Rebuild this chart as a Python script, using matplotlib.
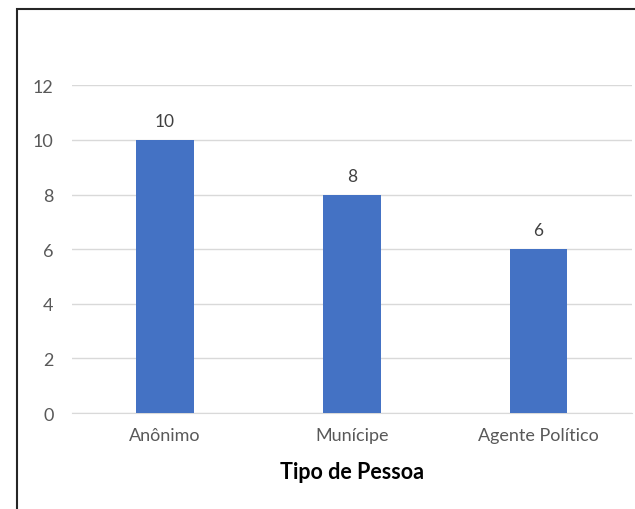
import matplotlib
matplotlib.use('Agg')
import matplotlib.pyplot as plt
from matplotlib.patches import Rectangle

categories = ['Anônimo', 'Munícipe', 'Agente Político']
values = [10, 8, 6]
yticks = [0, 2, 4, 6, 8, 10, 12]

plt.rcParams['font.family'] = ['Lato', 'DejaVu Sans']

fig = plt.figure(figsize=(6.35, 5.1), dpi=100)
ax = fig.add_axes([0.113, 0.188, 0.882, 0.643])

x = range(len(categories))
bars = ax.bar(x, values, width=0.31, color='#4472C4', zorder=3)
for b, v in zip(bars, values):
    ax.text(b.get_x() + b.get_width() / 2, v + 0.4, str(v), ha='center', va='bottom',
            fontsize=12.5, color='#404040')

ax.set_xlim(-0.5, len(categories) - 0.5)
ax.set_ylim(0, 12)
ax.set_yticks(yticks)
ax.set_xticks(list(x))
ax.set_xticklabels(categories)
ax.yaxis.grid(True, color='#d9d9d9', linewidth=1, zorder=0)
for s in ['top', 'right', 'left']:
    ax.spines[s].set_visible(False)
ax.spines['bottom'].set_color('#d9d9d9')
ax.tick_params(axis='both', length=0, labelsize=13, labelcolor='#595959')
ax.tick_params(axis='y', pad=13)
ax.tick_params(axis='x', pad=10)
ax.set_xlabel('Tipo de Pessoa', fontsize=15.5, fontweight='bold', color='black', labelpad=13)

fig.patches.append(Rectangle((17 / 635, -0.1), 1.2, 1.08, transform=fig.transFigure,
                             fill=False, edgecolor='#262626', linewidth=1.5))

fig.savefig('out.png', dpi=100)
